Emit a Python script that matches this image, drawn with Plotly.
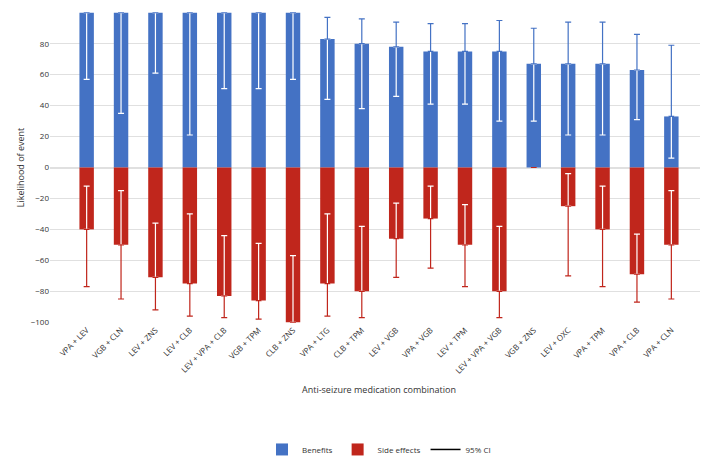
import plotly.graph_objects as go

cats = ["VPA + LEV","VGB + CLN","LEV + ZNS","LEV + CLB","LEV + VPA + CLB","VGB + TPM","CLB + ZNS",
        "VPA + LTG","CLB + TPM","LEV + VGB","VPA + VGB","LEV + TPM","LEV + VPA + VGB","VGB + ZNS",
        "LEV + OXC","VPA + TPM","VPA + CLB","VPA + CLN"]
benefit = [100,100,100,100,100,100,100,83,80,78,75,75,75,67,67,67,63,33]
ben_lo = [57,35,61,21,51,51,57,44,38,46,41,41,30,30,21,21,31,6]
ben_hi = [100,100,100,100,100,100,100,97,96,94,93,93,95,90,94,94,86,79]
side = [-40,-50,-71,-75,-83,-86,-100,-75,-80,-46,-33,-50,-80,0,-25,-40,-69,-50]
side_lo = [-12,-15,-36,-30,-44,-49,-57,-30,-38,-23,-12,-24,-38,0,-4,-12,-43,-15]
side_hi = [-77,-85,-92,-96,-97,-98,-100,-96,-97,-71,-65,-77,-97,0,-70,-77,-87,-85]

BLUE = "#4472C4"; RED = "#C0261C"
fig = go.Figure()
fig.add_bar(x=cats, y=benefit, name="Benefits", marker=dict(color=BLUE, line=dict(width=0)), width=0.42,
            error_y=dict(type="data", symmetric=False, array=[0]*18,
                         arrayminus=[b-l for b, l in zip(benefit, ben_lo)],
                         color="white", thickness=1.2, width=3))
fig.add_bar(x=cats, y=side, name="Side effects", marker=dict(color=RED, line=dict(width=0)), width=0.42,
            error_y=dict(type="data", symmetric=False, arrayminus=[0]*18,
                         array=[l-s for s, l in zip(side, side_lo)],
                         color="white", thickness=1.2, width=3))
fig.add_scatter(x=cats, y=benefit, mode="markers", marker=dict(opacity=0), showlegend=False, hoverinfo="skip",
                error_y=dict(type="data", symmetric=False, arrayminus=[0]*18,
                             array=[h-b for b, h in zip(benefit, ben_hi)],
                             color=BLUE, thickness=1.2, width=3))
fig.add_scatter(x=cats, y=side, mode="markers", marker=dict(opacity=0), showlegend=False, hoverinfo="skip",
                error_y=dict(type="data", symmetric=False, array=[0]*18,
                             arrayminus=[s-h for s, h in zip(side, side_hi)],
                             color=RED, thickness=1.2, width=3))
fig.add_scatter(x=[None], y=[None], mode="lines", name="95% CI", line=dict(color="black", width=1.5))
fig.update_layout(
    width=708, height=460, barmode="overlay", plot_bgcolor="white", paper_bgcolor="white",
    margin=dict(l=42, r=8, t=4, b=96),
    font=dict(family="Open Sans", size=9, color="#333"),
    legend=dict(orientation="h", x=0.5, xanchor="center", y=-0.36, yanchor="top",
                font=dict(size=8), itemwidth=30, tracegroupgap=0),
    xaxis=dict(tickangle=-45, tickfont=dict(size=8, color="#333"),
               title=dict(text="Anti-seizure medication combination", font=dict(size=9), standoff=12)),
    yaxis=dict(range=[-100.5, 100.5], tickvals=list(range(-100, 101, 20)), ticksuffix="%",
               gridcolor="#e0e0e0", zeroline=True, showline=False,
               zerolinecolor="#e0e0e0", tickfont=dict(size=8, color="#333"),
               title=dict(text="Likelihood of event", font=dict(size=9), standoff=4)),
)
fig.write_html("out.html")
